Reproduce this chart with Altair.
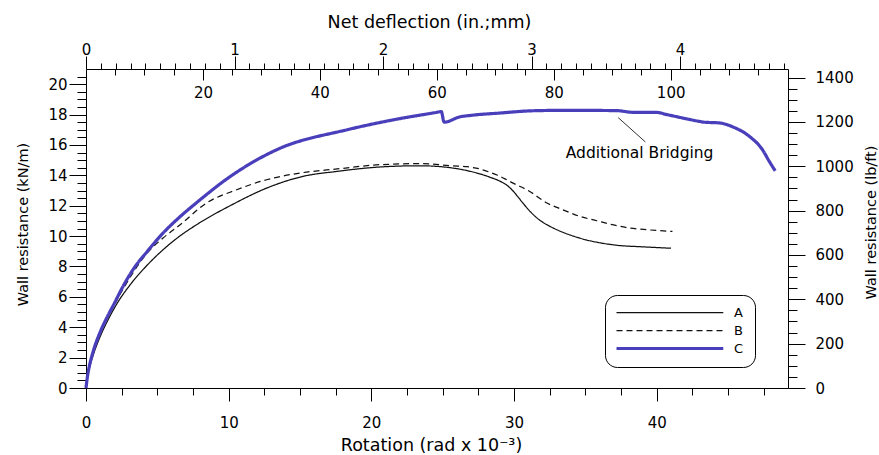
import altair as alt
import pandas as pd

# ---------------- data ----------------
SERIES = ["A", "B", "C"]

A_ROT = [0, 0.1, 0.25, 0.5, 1.0, 1.5, 2.2, 3.1, 4.2, 5.4, 6.5, 7.75, 10.1, 12.9, 15.2, 17.6, 20.6, 23.4, 25.7, 27.4, 28.3, 29.0, 29.5, 29.9, 30.3, 30.6, 31.2, 31.8, 32.4, 33.0, 34.6, 36.9, 39.3, 41.0]
A_KN = [0, 0.7, 1.35, 2.15, 3.4, 4.4, 5.6, 6.8, 8.0, 9.1, 9.95, 10.75, 12.0, 13.25, 13.93, 14.26, 14.55, 14.63, 14.48, 14.15, 13.88, 13.62, 13.35, 13.0, 12.55, 12.2, 11.55, 11.05, 10.7, 10.42, 9.87, 9.43, 9.28, 9.2]

B_ROT = [0, 0.1, 0.25, 0.5, 1.0, 2.0, 3.3, 4.25, 5.4, 6.6, 8.45, 10.56, 12.66, 13.6, 15.2, 17.6, 20.6, 23.4, 25.7, 26.7, 27.6, 28.3, 28.8, 29.4, 29.9, 31.1, 32.3, 33.4, 34.6, 35.8, 36.9, 38.1, 39.3, 41.1]
B_KN = [0, 0.75, 1.5, 2.4, 3.65, 5.5, 7.6, 8.85, 9.87, 10.75, 12.18, 13.05, 13.71, 13.92, 14.18, 14.42, 14.7, 14.77, 14.63, 14.57, 14.42, 14.2, 14.02, 13.75, 13.5, 12.94, 12.18, 11.74, 11.3, 11.01, 10.75, 10.53, 10.42, 10.31]

C_ROT = [0, 0.1, 0.25, 0.5, 1.0, 1.5, 2.0, 2.6, 3.3, 4.3, 5.4, 6.5, 7.75, 10.0, 13.4, 18.3, 21.8, 24.6, 24.9, 25.1, 26.2, 27.0, 29.0, 31.3, 33.7, 37.2, 38.3, 40.0, 40.7, 43.0, 43.3, 44.4, 45.3, 46.5, 47.4, 47.9, 48.3]
C_KN = [0, 0.75, 1.5, 2.4, 3.7, 4.7, 5.6, 6.7, 7.8, 9.0, 10.2, 11.2, 12.2, 13.85, 15.7, 17.0, 17.7, 18.15, 18.2, 17.5, 17.85, 17.95, 18.1, 18.25, 18.28, 18.26, 18.15, 18.14, 18.0, 17.55, 17.5, 17.45, 17.2, 16.56, 15.7, 14.9, 14.3]

ANNOT_TEXT = ["Additional Bridging"]
ANNOT_ROT = [38.8]
ANNOT_KN = [15.5]
LEADER_ROT = [37.3]
LEADER_KN = [17.8]
LEADER_ROT2 = [39.2]
LEADER_KN2 = [16.2]

# axis ticks
ROT_MAJOR = [0, 10, 20, 30, 40]
ROT_MINOR = [2.5, 5, 7.5, 12.5, 15, 17.5, 22.5, 25, 27.5, 32.5, 35, 37.5, 42.5, 45, 47.5]
KN_MAJOR = [0, 2, 4, 6, 8, 10, 12, 14, 16, 18, 20]
KN_MINOR = [v / 2 for v in range(1, 42) if v % 4 != 0]
IN_MAJOR = [0, 1, 2, 3, 4]
IN_MINOR = [v / 10 for v in range(1, 48) if v % 10 != 0]
MM_MAJOR = [20, 40, 60, 80, 100]
MM_MINOR = [v for v in range(5, 121, 5) if v % 20 != 0]
LB_MAJOR = [0, 200, 400, 600, 800, 1000, 1200, 1400]
LB_MINOR = [v for v in range(50, 1401, 50) if v % 200 != 0]

# axis extents
ROT_MAX = 49.2
KN_MAX = 21.0
IN_MAX = 4.727
MM_MAX = IN_MAX * 25.4
LB_MAX = KN_MAX * 68.52

# ---------------- build tables ----------------
rows = []
for s, xs, ys in [("A", A_ROT, A_KN), ("B", B_ROT, B_KN), ("C", C_ROT, C_KN)]:
    for x, y in zip(xs, ys):
        rows.append({"series": s, "rot": x, "kn": y})
df = pd.DataFrame(rows)

annot = pd.DataFrame({"label": ANNOT_TEXT, "rot": ANNOT_ROT, "kn": ANNOT_KN,
                      "r1": LEADER_ROT, "k1": LEADER_KN, "r2": LEADER_ROT2, "k2": LEADER_KN2})
dummy = pd.DataFrame({"inch": [0.0], "mm": [0.0], "lb": [0.0]})

W, H = 702, 319
FONT = "DejaVu Sans"
BLUE = "#4a3fbb"
THICK, THIN = 3.2, 1.25
HTITLE, VTITLE = 17.5, 14.5


def sc(mx):
    return alt.Scale(domain=[0, mx], nice=False, zero=False)


def major_axis(orient, values, tick, pad, title, tsize, **kw):
    return alt.Axis(orient=orient, values=values, tickSize=tick, labelPadding=pad,
                    grid=False, labelFlush=False, labelOverlap=False, labelBound=False,
                    labelFont=FONT, labelFontSize=15, labelColor="black", format="d",
                    tickColor="black", domainColor="black", tickWidth=1, domainWidth=1,
                    title=title, titleFont=FONT, titleFontSize=tsize, titleFontWeight="normal",
                    titleColor="black", titleBaseline="middle", **kw)


def minor_axis(orient, values, tick):
    return alt.Axis(orient=orient, values=values, tickSize=tick, labels=False, domain=False,
                    grid=False, tickColor="black", tickWidth=1, title=None)


legend = alt.Legend(title=None, orient="none", legendX=519, legendY=226, padding=11,
                    strokeColor="black", cornerRadius=12, fillColor="white",
                    symbolType="M-0.75,0H12.6", symbolSize=256, labelOffset=105,
                    labelFont=FONT, labelFontSize=13, labelColor="black", rowPadding=4,
                    symbolStrokeWidth=alt.ExprRef(expr=f"datum.value === 'C' ? {THICK} : {THIN}"))

lines = alt.Chart(df).mark_line(interpolate="monotone").encode(
    x=alt.X("rot:Q", scale=sc(ROT_MAX),
            axis=major_axis("bottom", ROT_MAJOR, 13, 14, "Rotation  (rad x 10⁻³)", HTITLE,
                            titleX=345, titleY=57)),
    y=alt.Y("kn:Q", scale=sc(KN_MAX),
            axis=major_axis("left", KN_MAJOR, 17, 2, "Wall resistance (kN/m)", VTITLE,
                            titleX=-63, titleY=155, titleAngle=270)),
    color=alt.Color("series:N", scale=alt.Scale(domain=SERIES, range=["#111111", "#111111", BLUE]), legend=legend),
    strokeDash=alt.StrokeDash("series:N", scale=alt.Scale(domain=SERIES, range=[[1, 0], [6, 4], [1, 0]]), legend=legend),
    strokeWidth=alt.condition("datum.series === 'C'", alt.value(THICK), alt.value(THIN)),
)

minor1 = alt.Chart(df).mark_point(opacity=0).encode(
    x=alt.X("rot:Q", scale=sc(ROT_MAX), axis=minor_axis("bottom", ROT_MINOR, 7)),
    y=alt.Y("kn:Q", scale=sc(KN_MAX), axis=minor_axis("left", KN_MINOR, 9)),
)

inch_lb = alt.Chart(dummy).mark_point(opacity=0).encode(
    x=alt.X("inch:Q", scale=sc(IN_MAX),
            axis=major_axis("top", IN_MAJOR, 13, -1, "Net deflection (in.;mm)", HTITLE,
                            titleX=343, titleY=-47)),
    y=alt.Y("lb:Q", scale=sc(LB_MAX),
            axis=major_axis("right", LB_MAJOR, 17, 10, "Wall resistance (lb/ft)", VTITLE,
                            titleX=83, titleY=153, titleAngle=270)),
)

inch_lb_minor = alt.Chart(dummy).mark_point(opacity=0).encode(
    x=alt.X("inch:Q", scale=sc(IN_MAX), axis=minor_axis("top", IN_MINOR, 6)),
    y=alt.Y("lb:Q", scale=sc(LB_MAX), axis=minor_axis("right", LB_MINOR, 9)),
)

mm_major = alt.Chart(dummy).mark_point(opacity=0).encode(
    x=alt.X("mm:Q", scale=sc(MM_MAX),
            axis=alt.Axis(orient="bottom", offset=-H, values=MM_MAJOR, tickSize=11, labelPadding=5,
                          domain=False, grid=False, labelFlush=False, labelOverlap=False,
                          labelFont=FONT, labelFontSize=15, labelColor="black",
                          tickColor="black", tickWidth=1, title=None)),
)

mm_minor = alt.Chart(dummy).mark_point(opacity=0).encode(
    x=alt.X("mm:Q", scale=sc(MM_MAX),
            axis=alt.Axis(orient="bottom", offset=-H, values=MM_MINOR, tickSize=6, labels=False,
                          domain=False, grid=False, tickColor="black", tickWidth=1, title=None)),
)

leader = alt.Chart(annot).mark_rule(color="#333333", strokeWidth=1).encode(
    x=alt.X("r1:Q", scale=sc(ROT_MAX), axis=None),
    y=alt.Y("k1:Q", scale=sc(KN_MAX), axis=None),
    x2="r2:Q", y2="k2:Q",
)

label = alt.Chart(annot).mark_text(font=FONT, fontSize=15.5, color="black", align="center",
                                   baseline="middle").encode(
    x=alt.X("rot:Q", scale=sc(ROT_MAX), axis=None),
    y=alt.Y("kn:Q", scale=sc(KN_MAX), axis=None),
    text="label:N",
)

chart = alt.layer(lines, minor1, inch_lb, inch_lb_minor, mm_major, mm_minor, leader, label).resolve_scale(
    x="independent", y="independent"
).properties(
    width=W, height=H,
    padding={"left": 86, "top": 69, "right": 91, "bottom": 67},
    autosize=alt.AutoSizeParams(type="none"),
    background="white",
).configure_view(stroke=None)

chart.save("out.html", embed_options={"renderer": "svg", "actions": False})
